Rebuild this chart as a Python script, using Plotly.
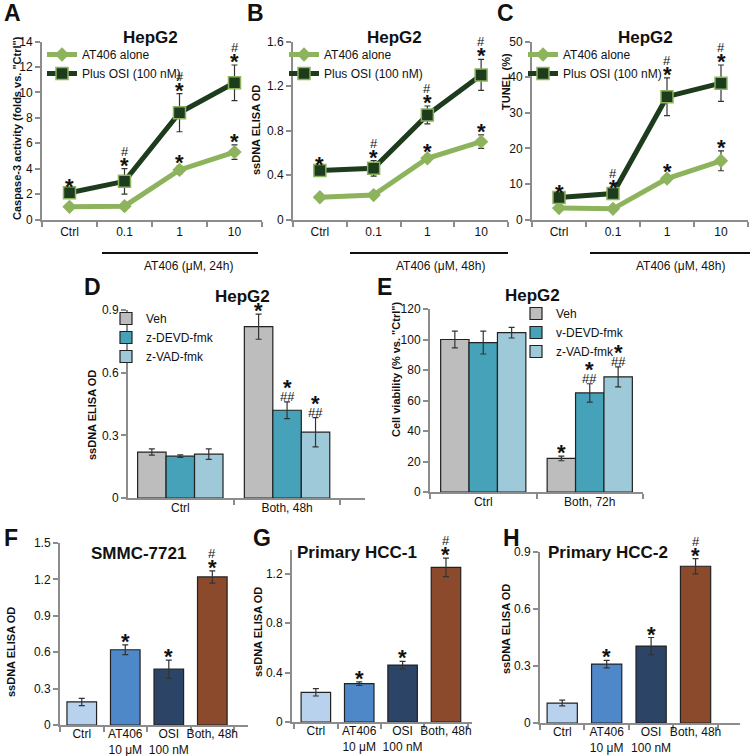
import plotly.graph_objects as go

W, H = 750, 756


def px(x):
    return x / W


def py(y):
    return 1 - y / H


# ---------------- data ----------------
line_cats = ["Ctrl", "0.1", "1", "10"]

a_alone = [1.0, 1.05, 3.9, 5.3]
a_alone_err = [0.1, 0.1, 0.3, 0.57]
a_osi = [2.1, 3.0, 8.4, 10.75]
a_osi_err = [0.2, 1.0, 1.5, 1.4]

b_alone = [0.20, 0.22, 0.55, 0.70]
b_alone_err = [0.01, 0.02, 0.03, 0.06]
b_osi = [0.44, 0.46, 0.94, 1.30]
b_osi_err = [0.02, 0.07, 0.08, 0.14]

c_alone = [3.2, 3.0, 11.5, 16.5]
c_alone_err = [0.5, 0.5, 1.0, 2.8]
c_osi = [6.2, 7.3, 34.5, 38.3]
c_osi_err = [0.5, 0.8, 5.3, 5.1]

alone_star = ["", "", "*", "*"]
osi_star = ["*", "*", "*", "*"]
osi_hash = ["", "#", "#", "#"]

d_cats = ["Ctrl", "Both, 48h"]
d_veh = [0.22, 0.82]
d_veh_err = [0.015, 0.06]
d_devd = [0.20, 0.42]
d_devd_err = [0.006, 0.04]
d_vad = [0.21, 0.315]
d_vad_err = [0.025, 0.07]

e_cats = ["Ctrl", "Both, 72h"]
e_veh = [100, 22]
e_veh_err = [5.5, 1.5]
e_devd = [98, 65]
e_devd_err = [7.5, 6]
e_vad = [104.5, 75.5]
e_vad_err = [3.5, 6.5]

veh_star = ["", "*"]
inh_star = ["", "*"]
inh_hash = ["", "##"]

bar_cats = ["Ctrl", "AT406<br>10 μM", "OSI<br>100 nM", "Both, 48h"]
f_vals = [0.19, 0.62, 0.46, 1.22]
f_err = [0.03, 0.04, 0.075, 0.05]
g_vals = [0.24, 0.31, 0.46, 1.25]
g_err = [0.03, 0.015, 0.03, 0.075]
h_vals = [0.105, 0.31, 0.405, 0.825]
h_err = [0.015, 0.02, 0.045, 0.04]
bar_star = ["", "*", "*", "*"]
bar_hash = ["", "", "", "#"]

# ---------------- style ----------------
FONT = "Arial, 'Liberation Sans', sans-serif"
GRAY = "#8c8c8c"
LIGHT_G = "#8db35c"
DARK_G = "#1d3b1d"
VEH_C = "#bdbdbd"
DEVD_C = "#46a2b9"
VAD_C = "#9ec9d8"
bar_colors = ["#b8d1ec", "#4e88c9", "#2c4466", "#8b4a2b"]
ERR = dict(type="data", color="#333333", thickness=1.2, width=3)

fig = go.Figure()
ann = []
shapes = []


def star_ann(xref, yref, x, y, text, shift, size=22, bold=True):
    t = "<b>%s</b>" % text if bold else text
    ann.append(dict(x=x, y=y, xref=xref, yref=yref, text=t, showarrow=False,
                    yanchor="bottom", yshift=shift,
                    font=dict(family=FONT, size=size, color="#111")))


# line panels A-C
line_panels = [
    ("x", "y", "legend", a_alone, a_alone_err, a_osi, a_osi_err),
    ("x2", "y2", "legend2", b_alone, b_alone_err, b_osi, b_osi_err),
    ("x3", "y3", "legend3", c_alone, c_alone_err, c_osi, c_osi_err),
]
xs = list(range(len(line_cats)))
for xa, ya, lg, al, ale, os_, ose in line_panels:
    fig.add_trace(go.Scatter(x=xs, y=al, error_y=dict(array=ale, **ERR),
                             mode="lines+markers", name="AT406 alone",
                             line=dict(color=LIGHT_G, width=5),
                             marker=dict(symbol="diamond", size=11, color=LIGHT_G),
                             xaxis=xa, yaxis=ya, legend=lg))
    fig.add_trace(go.Scatter(x=xs, y=os_, error_y=dict(array=ose, **ERR),
                             mode="lines+markers", name="Plus OSI (100 nM)",
                             line=dict(color=DARK_G, width=5),
                             marker=dict(symbol="square", size=12, color=DARK_G,
                                         line=dict(color=LIGHT_G, width=1.5)),
                             xaxis=xa, yaxis=ya, legend=lg))
    for i in xs:
        if alone_star[i]:
            star_ann(xa, ya, i, al[i] + ale[i], alone_star[i], -11)
        if osi_star[i]:
            star_ann(xa, ya, i, os_[i] + ose[i], osi_star[i], -11)
        if osi_hash[i]:
            star_ann(xa, ya, i, os_[i] + ose[i], osi_hash[i], 8, size=13, bold=False)

# grouped bar panels D, E
BARGAP = 0.2
grp = [
    ("x4", "y4", "legend4", d_cats,
     [("Veh", d_veh, d_veh_err, VEH_C), ("z-DEVD-fmk", d_devd, d_devd_err, DEVD_C),
      ("z-VAD-fmk", d_vad, d_vad_err, VAD_C)]),
    ("x5", "y5", "legend5", e_cats,
     [("Veh", e_veh, e_veh_err, VEH_C), ("v-DEVD-fmk", e_devd, e_devd_err, DEVD_C),
      ("z-VAD-fmk", e_vad, e_vad_err, VAD_C)]),
]
for xa, ya, lg, cats, series in grp:
    n = len(series)
    bw = (1 - BARGAP) / n
    gx = list(range(len(cats)))
    for k, (name, vals, errs, col) in enumerate(series):
        fig.add_trace(go.Bar(x=gx, y=vals, name=name, error_y=dict(array=errs, **ERR),
                             marker=dict(color=col, line=dict(color="#222", width=1.2)),
                             xaxis=xa, yaxis=ya, legend=lg))
        off = (k - (n - 1) / 2) * bw
        for i in gx:
            top = vals[i] + errs[i]
            if k == 0:
                if veh_star[i]:
                    star_ann(xa, ya, i + off, top, veh_star[i], -11)
            else:
                if inh_hash[i]:
                    star_ann(xa, ya, i + off, top, inh_hash[i], -4, size=13, bold=False)
                if inh_star[i]:
                    star_ann(xa, ya, i + off, top, inh_star[i], 0)

# single bar panels F-H
for xa, ya, vals, errs in [("x6", "y6", f_vals, f_err), ("x7", "y7", g_vals, g_err),
                           ("x8", "y8", h_vals, h_err)]:
    bx = list(range(len(bar_cats)))
    fig.add_trace(go.Bar(x=bx, y=vals, width=0.68, error_y=dict(array=errs, **ERR),
                         marker=dict(color=bar_colors, line=dict(color="#222", width=1.2)),
                         showlegend=False, xaxis=xa, yaxis=ya))
    for i in bx:
        top = vals[i] + errs[i]
        if bar_star[i]:
            star_ann(xa, ya, i, top, bar_star[i], -11)
        if bar_hash[i]:
            star_ann(xa, ya, i, top, bar_hash[i], 8, size=13, bold=False)


# ---------------- axes ----------------
def xax(d0, d1, rng, tv, tt, minor_vals, standoff=0):
    return dict(domain=[px(d0), px(d1)], range=rng, showline=True, linecolor=GRAY,
                linewidth=2, ticks="", tickvals=tv, ticktext=tt, showgrid=False,
                zeroline=False, tickfont=dict(family=FONT, size=12, color="#111"),
                ticklabelstandoff=standoff, tickangle=0, automargin=False,
                minor=dict(tickmode="array", tickvals=minor_vals, ticks="outside",
                           ticklen=5, tickcolor=GRAY, tickwidth=2))


def yax(top, bot, rng, tv, anchor):
    return dict(domain=[py(bot), py(top)], range=rng, showline=True, linecolor=GRAY,
                linewidth=2, ticks="outside", ticklen=5, tickcolor=GRAY, tickwidth=2,
                tickvals=tv, showgrid=False, zeroline=False, anchor=anchor,
                automargin=False,
                tickfont=dict(family=FONT, size=12, color="#111"))


lb = [-0.5, 0.5, 1.5, 2.5, 3.5]
layout_axes = dict(
    xaxis=xax(42, 262, [-0.5, 3.5], xs, line_cats, lb, 0),
    yaxis=yax(41.5, 219.5, [0, 14], [0, 2, 4, 6, 8, 10, 12, 14], "x"),
    xaxis2=xax(293, 508, [-0.5, 3.5], xs, line_cats, lb, 0),
    yaxis2=yax(41.5, 219.5, [0, 1.6], [0, 0.4, 0.8, 1.2, 1.6], "x2"),
    xaxis3=xax(532, 748, [-0.5, 3.5], xs, line_cats, lb, 0),
    yaxis3=yax(41.5, 219.5, [0, 50], [0, 10, 20, 30, 40, 50], "x3"),
    xaxis4=xax(128, 365, [-0.49, 1.73], [0, 1], d_cats, [-0.5, 0.5, 1.5], -2),
    yaxis4=yax(310, 498, [0, 0.9], [0, 0.3, 0.6, 0.9], "x4"),
    xaxis5=xax(430, 643, [-0.5, 1.5], [0, 1], e_cats, [-0.5, 0.5, 1.5], -2),
    yaxis5=yax(309, 492, [0, 120], [0, 20, 40, 60, 80, 100, 120], "x5"),
    xaxis6=xax(60, 248, [-0.5, 3.82], list(range(4)), bar_cats, lb, -3),
    yaxis6=yax(543, 725, [0, 1.5], [0, 0.3, 0.6, 0.9, 1.2, 1.5], "x6"),
    xaxis7=xax(292, 472, [-0.55, 3.6], list(range(4)), bar_cats, lb, -3),
    yaxis7=yax(550, 722, [0, 1.39], [0, 0.4, 0.8, 1.2], "x7"),
    xaxis8=xax(540, 740, [-0.5, 4.0], list(range(4)), bar_cats, lb, -3),
    yaxis8=yax(552, 723, [0, 0.9], [0, 0.3, 0.6, 0.9], "x8"),
)
for k in ["xaxis2", "xaxis3", "xaxis4", "xaxis5", "xaxis6", "xaxis7", "xaxis8"]:
    layout_axes[k]["anchor"] = "y" + k[5:]
layout_axes["xaxis"]["anchor"] = "y"


# ---------------- decorations ----------------
def txt(x, y, s, size, bold=False, angle=0):
    ann.append(dict(x=px(x), y=py(y), xref="paper", yref="paper", showarrow=False,
                    text="<b>%s</b>" % s if bold else s, textangle=angle,
                    xanchor="center", yanchor="middle",
                    font=dict(family=FONT, size=size, color="#111")))


for s, x, y in [("A", 12, 13), ("B", 255, 13), ("C", 505, 13), ("D", 92, 287),
                ("E", 384, 287), ("F", 11, 538), ("G", 262, 538), ("H", 511, 538)]:
    txt(x, y, s, 23, bold=True)

for s, x, y in [("HepG2", 150, 38), ("HepG2", 395, 38), ("HepG2", 645, 37),
                ("HepG2", 242, 296), ("HepG2", 532, 295), ("SMMC-7721", 138, 553),
                ("Primary HCC-1", 357, 552), ("Primary HCC-2", 608, 552)]:
    txt(x, y, s, 17, bold=True)

for s, x, y in [("Caspase-3 activity (folds vs. \"Ctrl\")", 17, 128),
                ("ssDNA ELISA OD", 256, 130), ("TUNEL (%)", 506, 82),
                ("ssDNA ELISA OD", 92, 415), ("Cell viability (% vs. \"Ctrl\")", 396, 370),
                ("ssDNA ELISA OD", 11, 652), ("ssDNA ELISA OD", 258, 632),
                ("ssDNA ELISA OD", 506, 629)]:
    txt(x, y, s, 11, bold=True, angle=-90)

for x0, x1, lx, lab in [(102, 258, 188, "AT406 (μM, 24h)"), (350, 508, 440, "AT406 (μM, 48h)"),
                        (590, 750, 680, "AT406 (μM, 48h)")]:
    shapes.append(dict(type="line", xref="paper", yref="paper", x0=px(x0), x1=px(x1),
                       y0=py(253), y1=py(253), line=dict(color="#111", width=2)))
    txt(lx, 266, lab, 12)

LEG = dict(bgcolor="rgba(0,0,0,0)", font=dict(family=FONT, size=12, color="#111"),
           xanchor="left", yanchor="top", tracegroupgap=0, itemclick=False)
fig.update_layout(
    width=W, height=H, margin=dict(l=0, r=0, t=0, b=0, autoexpand=False),
    paper_bgcolor="white", plot_bgcolor="white",
    barmode="group", bargap=BARGAP, bargroupgap=0,
    annotations=ann, shapes=shapes,
    legend=dict(x=px(42), y=py(40), **LEG),
    legend2=dict(x=px(284), y=py(40), **LEG),
    legend3=dict(x=px(523), y=py(40), **LEG),
    legend4=dict(x=px(106), y=py(304), **LEG),
    legend5=dict(x=px(516), y=py(299), **LEG),
    **layout_axes,
)

# the page's default body margin would shift the whole figure by 8px
fig.write_html("out.html", config={"displayModeBar": False},
               post_script="document.body.style.margin='0px';")
